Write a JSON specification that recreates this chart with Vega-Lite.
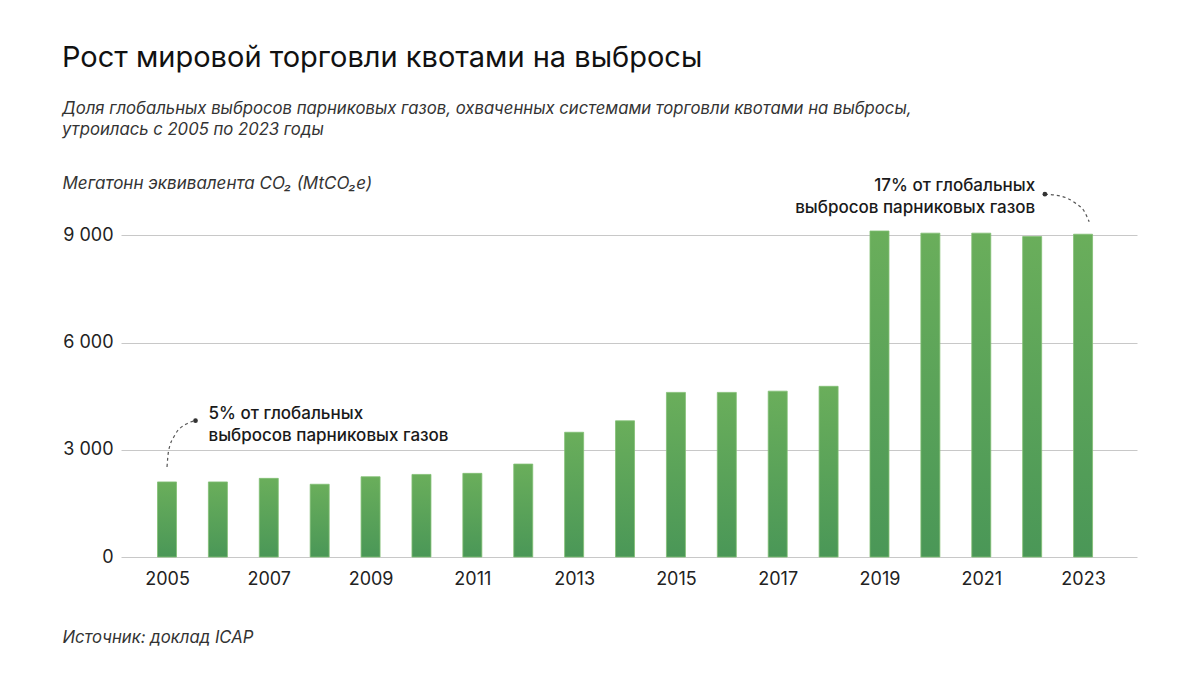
{
  "$schema": "https://vega.github.io/schema/vega-lite/v6.json",
  "width": 1016,
  "height": 336,
  "autosize": "none",
  "padding": {"left": 121, "top": 221, "right": 63, "bottom": 119},
  "background": "white",
  "config": {"font": "Inter", "view": {"stroke": null}},
  "title": {
    "text": "Рост мировой торговли квотами на выбросы",
    "subtitle": ["Доля глобальных выбросов парниковых газов, охваченных системами торговли квотами на выбросы,", "утроилась с 2005 по 2023 годы"],
    "anchor": "start",
    "frame": "bounds",
    "fontSize": 29,
    "fontWeight": "normal",
    "color": "#111111",
    "subtitleFontSize": 16.7,
    "subtitleFontStyle": "italic",
    "subtitleColor": "#333333",
    "subtitleLineHeight": 21,
    "subtitlePadding": 28,
    "offset": 35
  },
  "datasets": {
    "bars": [
      {"year": 2005, "value": 2100},
      {"year": 2006, "value": 2100},
      {"year": 2007, "value": 2200},
      {"year": 2008, "value": 2035},
      {"year": 2009, "value": 2245},
      {"year": 2010, "value": 2310},
      {"year": 2011, "value": 2340},
      {"year": 2012, "value": 2600},
      {"year": 2013, "value": 3490},
      {"year": 2014, "value": 3810},
      {"year": 2015, "value": 4605},
      {"year": 2016, "value": 4605},
      {"year": 2017, "value": 4640},
      {"year": 2018, "value": 4775},
      {"year": 2019, "value": 9120},
      {"year": 2020, "value": 9060},
      {"year": 2021, "value": 9060},
      {"year": 2022, "value": 8965},
      {"year": 2023, "value": 9030}
    ],
    "curves": [
      {"grp": "a", "year": 2005.0, "value": 2520},
      {"grp": "a", "year": 2005.03, "value": 2960},
      {"grp": "a", "year": 2005.15, "value": 3400},
      {"grp": "a", "year": 2005.38, "value": 3720},
      {"grp": "a", "year": 2005.56, "value": 3815},
      {"grp": "b", "year": 2022.25, "value": 10150},
      {"grp": "b", "year": 2022.55, "value": 10100},
      {"grp": "b", "year": 2022.84, "value": 9910},
      {"grp": "b", "year": 2023.04, "value": 9630},
      {"grp": "b", "year": 2023.12, "value": 9380}
    ],
    "dots": [
      {"year": 2005.56, "value": 3815},
      {"year": 2022.25, "value": 10150}
    ],
    "notes": [
      {"year": 2005.815, "value": 3860, "label": "5% от глобальных\nвыбросов парниковых газов", "side": "left"},
      {"year": 2022.06, "value": 10245, "label": "17% от глобальных\nвыбросов парниковых газов", "side": "right"}
    ]
  },
  "encoding": {
    "x": {
      "field": "year",
      "type": "quantitative",
      "scale": {"domain": [2004.096, 2024.06], "nice": false, "zero": false, "padding": 0},
      "axis": {
        "values": [2005, 2007, 2009, 2011, 2013, 2015, 2017, 2019, 2021, 2023],
        "format": "d",
        "grid": false,
        "domain": false,
        "ticks": false,
        "labelPadding": 13,
        "labelFontSize": 18,
        "labelColor": "#222222",
        "title": "Источник: доклад ICAP",
        "titleX": -59,
        "titleY": 85,
        "titleAlign": "left",
        "titleBaseline": "alphabetic",
        "titleFontStyle": "italic",
        "titleFontWeight": "normal",
        "titleFontSize": 16.7,
        "titleColor": "#333333"
      }
    },
    "y": {
      "field": "value",
      "type": "quantitative",
      "scale": {"domain": [0, 9400], "nice": false},
      "axis": {
        "values": [0, 3000, 6000, 9000],
        "labelExpr": "replace(format(datum.value, ',d'), ',', ' ')",
        "grid": true,
        "gridColor": "#c8c8c8",
        "gridWidth": 1,
        "domain": false,
        "ticks": false,
        "labelPadding": 8,
        "labelFontSize": 18,
        "labelColor": "#222222",
        "title": "Мегатонн эквивалента CO₂ (MtCO₂e)",
        "titleAngle": 0,
        "titleX": -59,
        "titleY": -33,
        "titleAlign": "left",
        "titleBaseline": "alphabetic",
        "titleFontStyle": "italic",
        "titleFontWeight": "normal",
        "titleFontSize": 17,
        "titleColor": "#333333"
      }
    }
  },
  "layer": [
    {
      "data": {"name": "bars"},
      "mark": {
        "type": "bar",
        "size": 19,
        "stroke": "#82bf74",
        "strokeWidth": 0.8,
        "color": {
          "gradient": "linear",
          "x1": 0, "y1": 0, "x2": 0, "y2": 1,
          "stops": [
            {"offset": 0, "color": "#6aae5b"},
            {"offset": 1, "color": "#4a9757"}
          ]
        }
      }
    },
    {
      "data": {"name": "curves"},
      "mark": {"type": "line", "interpolate": "monotone", "strokeDash": [3, 3], "strokeWidth": 1.2, "color": "#555555"},
      "encoding": {"detail": {"field": "grp"}}
    },
    {
      "data": {"name": "dots"},
      "mark": {"type": "point", "filled": true, "size": 22, "color": "#333333", "opacity": 1}
    },
    {
      "data": {"name": "notes"},
      "transform": [{"filter": "datum.side == 'left'"}],
      "mark": {"type": "text", "align": "left", "baseline": "alphabetic", "lineBreak": "\n", "lineHeight": 22, "fontSize": 17, "fontWeight": 500, "color": "#1a1a1a"},
      "encoding": {"text": {"field": "label"}}
    },
    {
      "data": {"name": "notes"},
      "transform": [{"filter": "datum.side == 'right'"}],
      "mark": {"type": "text", "align": "right", "baseline": "alphabetic", "lineBreak": "\n", "lineHeight": 22, "fontSize": 17, "fontWeight": 500, "color": "#1a1a1a"},
      "encoding": {"text": {"field": "label"}}
    }
  ]
}
